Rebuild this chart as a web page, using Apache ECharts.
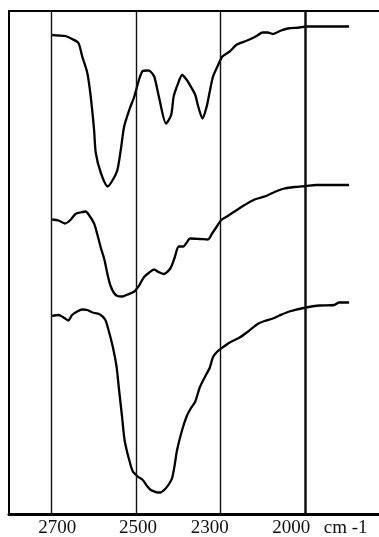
<!DOCTYPE html>
<html>
<head>
<meta charset="utf-8">
<script src="https://cdn.jsdelivr.net/npm/echarts@6/dist/echarts.min.js"></script>
<style>
html,body{margin:0;padding:0;background:#fff;}
#chart{width:379px;height:537px;}
</style>
</head>
<body>
<div id="chart"></div>
<script>
// Wavenumbers (cm-1) and transmittance-like values (arbitrary units)
const WN_C = [2698,2683,2667,2651,2636,2627,2615,2607,2599,2595,2583,2567,2555,2544,2536,2528,2516,2504,2492,2484,2473,2467,2457,2446,2429,2417,2411,2402,2391,2380,2370,2360,2353,2343,2333,2326,2318,2306,2294,2268,2245,2215,2194,2173,2151,2133,2115,2086,2062,2021,1998,1845];
const T_C  = [95.8,95.7,95.6,95.0,94.2,91.5,88.2,83.5,76.8,72.2,68.2,65.5,66.8,68.8,72.8,77.5,80.8,83.5,87.1,88.6,88.7,88.6,87.5,83.5,78.1,79.8,83.5,85.8,87.8,86.8,85.4,83.8,81.5,79.1,81.5,84.4,87.5,89.8,91.5,92.5,93.8,94.5,95.0,95.6,96.3,96.3,96.0,96.7,97.1,97.3,97.5,97.5];

const WN_B = [2698,2683,2668,2655,2643,2631,2619,2611,2599,2591,2583,2575,2567,2560,2552,2544,2532,2520,2504,2492,2481,2470,2457,2447,2434,2419,2409,2399,2388,2381,2372,2349,2330,2321,2310,2298,2275,2251,2215,2180,2139,2109,2074,2039,1998,1962,1845];
const T_B  = [58.9,58.7,58.1,58.8,60.0,60.3,60.5,59.8,58.1,55.8,53.2,51.0,47.8,45.6,44.2,43.6,43.5,43.9,44.5,45.8,47.4,48.2,48.9,48.4,48.0,49.1,51.2,53.5,53.5,54.2,55.1,55.0,54.9,56.0,57.4,58.8,59.6,60.5,61.8,62.9,63.6,64.4,65.1,65.4,65.6,65.8,65.8];

const WN_A = [2698,2683,2671,2660,2651,2639,2627,2615,2603,2587,2573,2564,2555,2546,2540,2533,2528,2524,2516,2508,2496,2484,2473,2465,2457,2449,2442,2430,2422,2415,2409,2403,2391,2380,2370,2360,2349,2333,2326,2318,2309,2298,2268,2233,2205,2169,2145,2115,2092,2057,1998,1951,1898,1880,1845];
const T_A  = [39.6,39.8,39.3,38.7,39.8,40.5,40.9,40.8,40.3,40.0,38.9,36.5,33.5,29.5,24.8,19.5,15.4,13.5,10.8,8.6,7.5,6.8,5.5,4.8,4.5,4.3,4.3,5.1,6.0,7.1,9.6,12.8,16.8,19.6,21.2,22.5,25.4,28.1,29.2,31.4,32.4,33.1,34.3,35.3,36.4,38.0,38.6,39.1,39.7,40.5,41.3,41.7,41.8,42.3,42.3];

const SERIES_NAMES = ['a','b','c'];
const GRID_WN = [2700,2500,2300,2000];
const TICK_LABELS = ['2700','2500','2300','2000'];
const UNIT_LABEL = 'cm -1';

// Piecewise (non-linear) wavenumber scale as printed on the spectrum chart
function toAxis(wn){
  if (wn >= 2500) return (2700 - wn) / 200;
  if (wn >= 2300) return 1 + (2500 - wn) / 200;
  return 2 + (2300 - wn) / 300;
}

const SERIF = '"Liberation Serif","DejaVu Serif",serif';
const labelDist = {a:18, b:17, c:14};

function build(name, wn, t){
  return wn.map((w,i)=>{
    const item = {value:[toAxis(w), t[i]]};
    if (i === 0){
      item.label = {show:true, position:'left', distance:labelDist[name], formatter:name,
        fontFamily:SERIF, fontWeight:'bold', fontSize:12, color:'#000'};
    }
    return item;
  });
}

const shifts = [6, 2, -11, -14, -2];
const rich = {};
shifts.forEach((s,i)=>{
  rich['l'+i] = {fontFamily:SERIF, fontSize:19, color:'#111',
    padding: s >= 0 ? [0,0,0,2*s] : [0,-2*s,0,0]};
});

const allLabels = TICK_LABELS.concat([UNIT_LABEL]);
const labelPos = [0,1,2,3,3.5];

const chart = echarts.init(document.getElementById('chart'), null, {renderer:'canvas'});
const option = {
  animation:false,
  backgroundColor:'#fff',
  grid:{left:9, right:-11, top:11, bottom:23, containLabel:false, outerBoundsMode:'none',
        show:true, borderColor:'#000', borderWidth:2, backgroundColor:'transparent'},
  xAxis:{
    type:'value', min:-0.5, max:4, interval:0.5,
    axisLine:{show:true, onZero:false, lineStyle:{color:'#000', width:3}},
    axisTick:{show:false},
    splitLine:{show:false},
    axisLabel:{
      margin:5,
      formatter:(v)=>{
        for (let i=0;i<labelPos.length;i++){
          if (Math.abs(v-labelPos[i])<1e-6) return '{l'+i+'|'+allLabels[i]+'}';
        }
        return '';
      },
      rich:rich
    }
  },
  yAxis:{type:'value', min:0, max:100.6, show:false},
  series:[
    {name:'a', type:'line', data:build('a',WN_A,T_A)},
    {name:'b', type:'line', data:build('b',WN_B,T_B)},
    {name:'c', type:'line', data:build('c',WN_C,T_C),
     markLine:{
       silent:true, symbol:'none', label:{show:false},
       data: GRID_WN.map((w,i)=>({xAxis:toAxis(w), lineStyle:{color:'#111', type:'solid', width: w===2000 ? 2.5 : 1.4}}))
     }}
  ].map(s=>Object.assign(s,{showSymbol:false, symbol:'none', smooth:0.25,
      lineStyle:{color:'#000', width:2.3}, itemStyle:{color:'#000'}, z:3}))
};
chart.setOption(option);
</script>
</body>
</html>
